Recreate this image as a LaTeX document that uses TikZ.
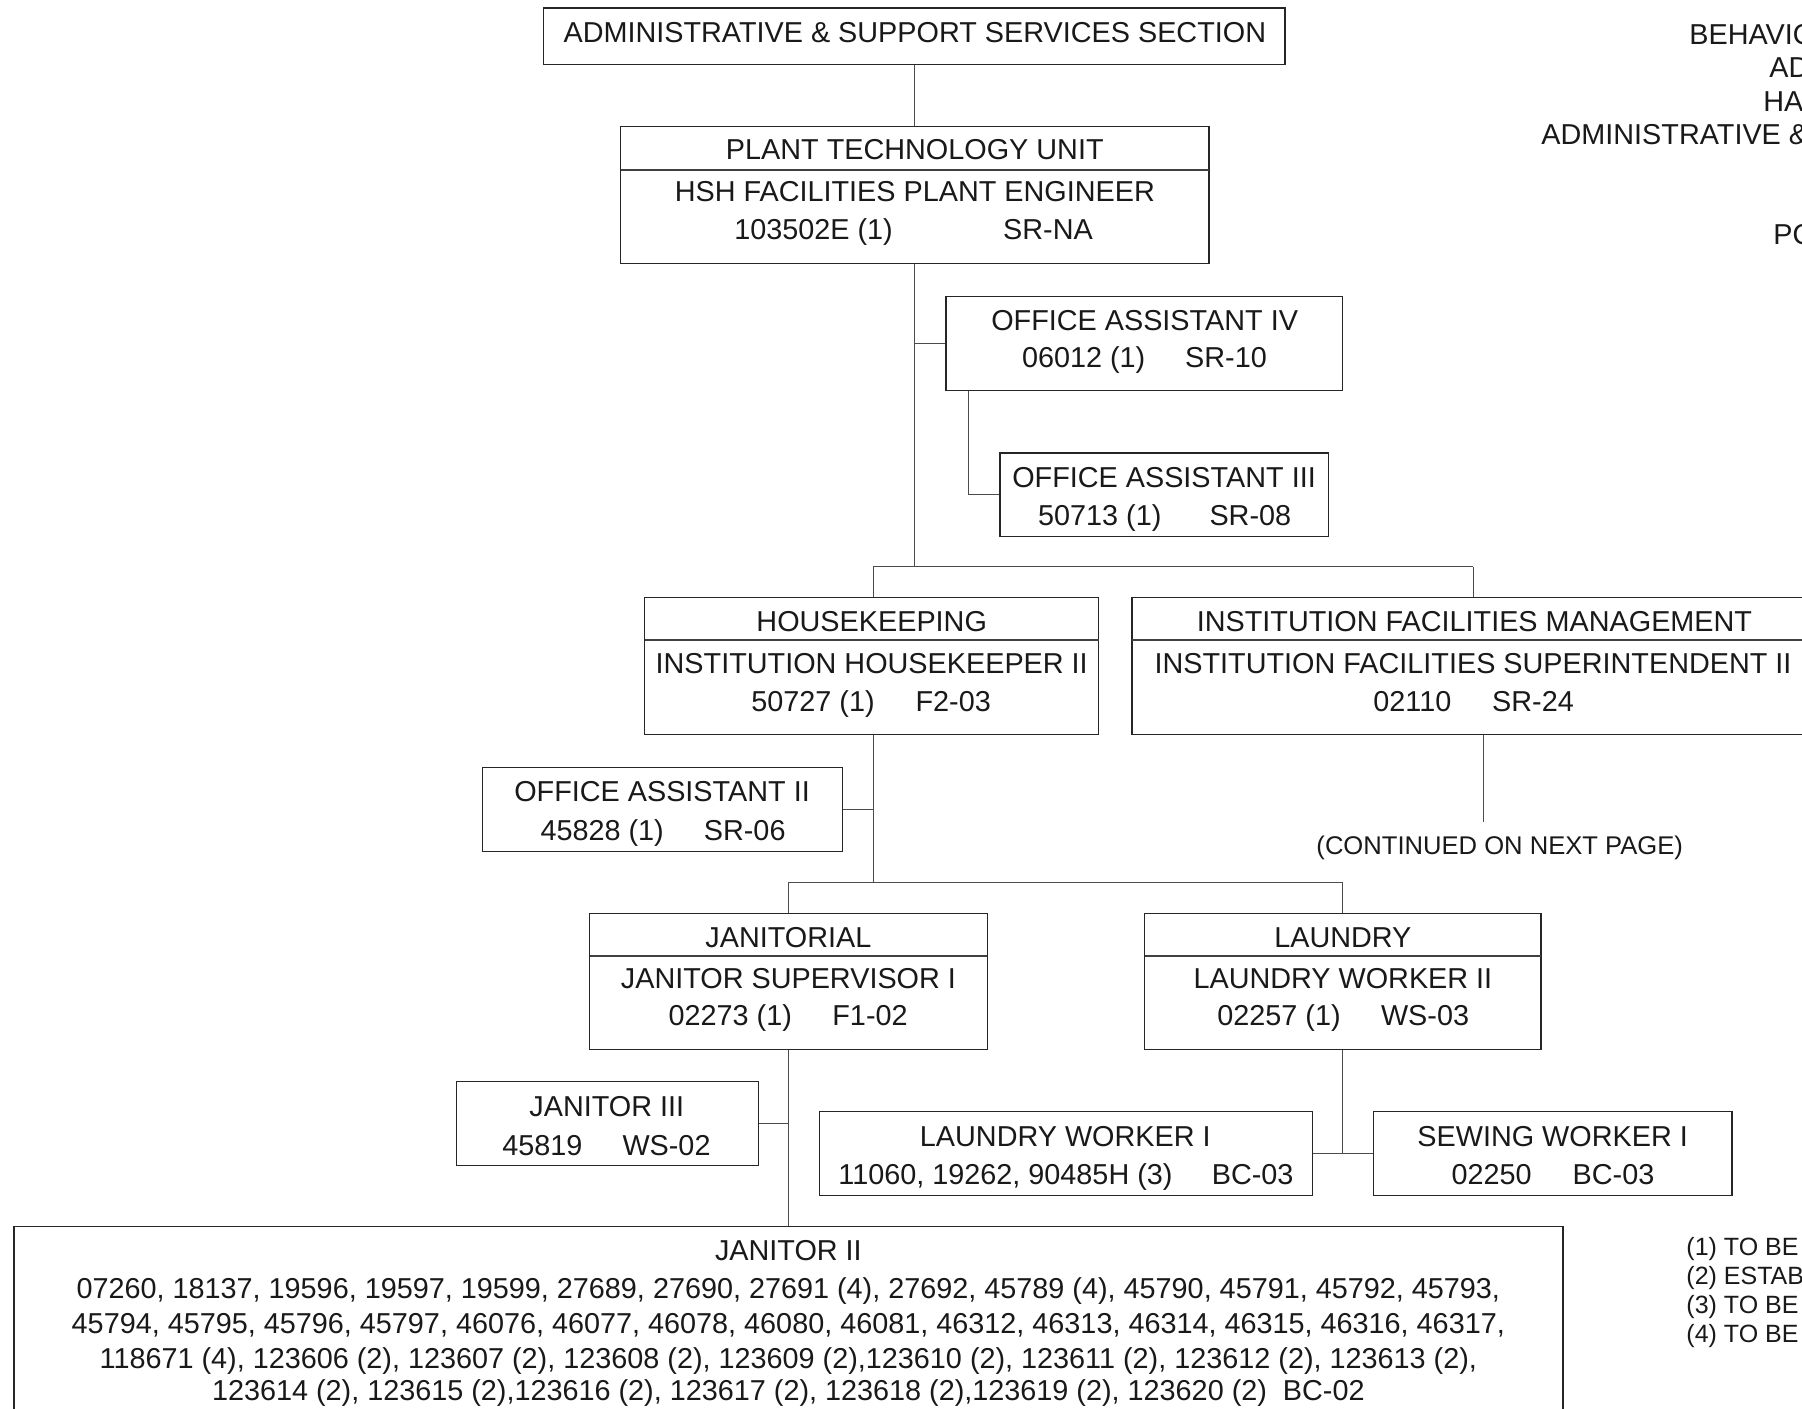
\documentclass[tikz,border=0pt]{standalone}
\usepackage{fontspec}
\setmainfont{Liberation Sans}
\usetikzlibrary{fit}
\begin{document}
\begin{tikzpicture}[x=0.5pt,y=-0.5pt,
  boxst/.style={draw=black!85, line width=0.7pt, inner sep=0pt},
  divl/.style={draw=black!75, line width=0.6pt},
  conn/.style={draw=black!70, line width=0.55pt},
  txt/.style={inner sep=0pt, anchor=base, font=\fontsize{14.4}{17}\selectfont, text=black!90},
  ntxt/.style={txt, font=\fontsize{14.4}{17}\selectfont},
  stxt/.style={txt, font=\fontsize{12.8}{15}\selectfont},
  ftxt/.style={txt, font=\fontsize{12.5}{15}\selectfont},
  hdr/.style={txt, anchor=base west},
  shdr/.style={ftxt, anchor=base west},
  ]
\useasboundingbox (0,0) rectangle (1802,1408);
\clip (0,0) rectangle (1802,1408);
\fill[white] (0,0) rectangle (1802,1408);

% ---------- boxes ----------
\node[boxst, fit={(543.6,8) (1284.8,64.4)}] (top) {};
\node[boxst, fit={(620.6,126.4) (1209,263.2)}] (plant) {};
\node[boxst, fit={(945.8,296.5) (1342.3,390.7)}] (oa4) {};
\node[boxst, fit={(999.8,452.8) (1328.5,536.7)}] (oa3) {};
\node[boxst, fit={(644.7,597.6) (1098.6,734.3)}] (hk) {};
\node[boxst, fit={(1132,597.6) (1820,734.3)}] (ifm) {};
\node[boxst, fit={(482.7,767.7) (842.4,851.6)}] (oa2) {};
\node[boxst, fit={(589.5,913.6) (987.2,1049.2)}] (jan) {};
\node[boxst, fit={(1144.6,913.6) (1541.1,1049.2)}] (lau) {};
\node[boxst, fit={(456.2,1081.4) (758.5,1165.3)}] (j3) {};
\node[boxst, fit={(819.4,1111.3) (1312.4,1195.2)}] (lw1) {};
\node[boxst, fit={(1373.3,1111.3) (1731.8,1195.2)}] (sw1) {};
\node[boxst, fit={(13.8,1226.2) (1563,1440)}] (j2) {};

% dividers
\draw[divl] (620.6,170) -- (1209,170);
\draw[divl] (644.7,640) -- (1098.6,640);
\draw[divl] (1132,640) -- (1820,640);
\draw[divl] (589.5,956) -- (987.2,956);
\draw[divl] (1144.6,956) -- (1541.1,956);

% ---------- texts ----------
\node[txt] (topt) at (914.8,42) {ADMINISTRATIVE \& SUPPORT SERVICES SECTION};

\node[txt] (plt1) at (914.8,159.5) {PLANT TECHNOLOGY UNIT};
\node[txt] (plt2) at (914.8,201) {HSH FACILITIES PLANT ENGINEER};
\node[txt] (plt3a) at (813.6,239) {103502E (1)};
\node[txt] (plt3b) at (1048,239) {SR-NA};

\node[txt] (oa4t1) at (1144.6,330) {OFFICE ASSISTANT IV};
\node[txt] (oa4t2a) at (1083.7,367.5) {06012 (1)};
\node[txt] (oa4t2b) at (1226,367.5) {SR-10};

\node[txt] (oa3t1) at (1164,487) {OFFICE ASSISTANT III};
\node[txt] (oa3t2a) at (1099.8,525) {50713 (1)};
\node[txt] (oa3t2b) at (1250.3,525) {SR-08};

\node[txt] (hkt1) at (871.7,631) {HOUSEKEEPING};
\node[txt] (hkt2) at (871.7,673) {INSTITUTION HOUSEKEEPER II};
\node[txt] (hkt3a) at (813,711) {50727 (1)};
\node[txt] (hkt3b) at (953.2,711) {F2-03};

\node[txt] (ifmt1) at (1474.4,631) {INSTITUTION FACILITIES MANAGEMENT};
\node[txt] (ifmt2) at (1473,673) {INSTITUTION FACILITIES SUPERINTENDENT II};
\node[txt] (ifmt3a) at (1412.4,711) {02110};
\node[txt] (ifmt3b) at (1533,711) {SR-24};

\node[stxt] (contt) at (1499.7,854) {(CONTINUED ON NEXT PAGE)};

\node[txt] (oa2t1) at (662,801) {OFFICE ASSISTANT II};
\node[txt] (oa2t2a) at (602.2,840) {45828 (1)};
\node[txt] (oa2t2b) at (744.7,840) {SR-06};

\node[txt] (jant1) at (788.4,947) {JANITORIAL};
\node[txt] (jant2) at (788.4,988) {JANITOR SUPERVISOR I};
\node[txt] (jant3a) at (730.3,1025) {02273 (1)};
\node[txt] (jant3b) at (870,1025) {F1-02};

\node[txt] (laut1) at (1342.9,947) {LAUNDRY};
\node[txt] (laut2) at (1342.9,988) {LAUNDRY WORKER II};
\node[txt] (laut3a) at (1279,1025) {02257 (1)};
\node[txt] (laut3b) at (1425,1025) {WS-03};

\node[txt] (j3t1) at (606.8,1116) {JANITOR III};
\node[txt] (j3t2a) at (542.4,1155) {45819};
\node[txt] (j3t2b) at (666.5,1155) {WS-02};

\node[txt] (lw1t1) at (1065.3,1146) {LAUNDRY WORKER I};
\node[txt] (lw1t2a) at (1005.5,1184) {11060, 19262, 90485H (3)};
\node[txt] (lw1t2b) at (1252.6,1184) {BC-03};

\node[txt] (sw1t1) at (1552.6,1146) {SEWING WORKER I};
\node[txt] (sw1t2a) at (1491.6,1184) {02250};
\node[txt] (sw1t2b) at (1613.5,1184) {BC-03};

\node[txt] (j2t1) at (788.4,1260.5) {JANITOR II};
\node[ntxt] (j2l1) at (788.4,1298) {07260, 18137, 19596, 19597, 19599, 27689, 27690, 27691 (4), 27692, 45789 (4), 45790, 45791, 45792, 45793,};
\node[ntxt] (j2l2) at (788.4,1333.6) {45794, 45795, 45796, 45797, 46076, 46077, 46078, 46080, 46081, 46312, 46313, 46314, 46315, 46316, 46317,};
\node[ntxt] (j2l3) at (788.4,1368) {118671 (4), 123606 (2), 123607 (2), 123608 (2), 123609 (2),123610 (2), 123611 (2), 123612 (2), 123613 (2),};
\node[ntxt] (j2l4) at (788.4,1400) {123614 (2), 123615 (2),123616 (2), 123617 (2), 123618 (2),123619 (2), 123620 (2)\ \ BC-02};

% header (cut at right edge, as in the reference)
\node[hdr] (h1) at (1689,44) {BEHAVIO};
\node[hdr] (h2) at (1769,77) {AD};
\node[hdr] (h3) at (1763,111) {HAW};
\node[hdr] (h4) at (1541,144) {ADMINISTRATIVE \&};
\node[hdr] (h5) at (1773,244) {PO};

% footnotes (cut at right edge, as in the reference)
\node[shdr] (f1) at (1686,1255) {(1) TO BE};
\node[shdr] (f2) at (1686,1284) {(2) ESTAB};
\node[shdr] (f3) at (1686,1313) {(3) TO BE};
\node[shdr] (f4) at (1686,1342) {(4) TO BE};

% ---------- connectors ----------
\coordinate (br1) at (873.4,566.5);
\coordinate (br2) at (1473.3,566.5);
\coordinate (oa4c) at (968.8,390.7);
\coordinate (hb) at (873.4,882.6);
\coordinate (cont) at (1483.6,821.7);

\draw[conn] (top.south) -- (top.south |- plant.north);
\draw[conn] (plant.south) -- (plant.south |- br1);
\draw[conn] (plant.south |- oa4.west) -- (oa4.west);
\draw[conn] (oa4c) |- (oa3.west);
\draw[conn] (br1) -- (br2);
\draw[conn] (br1) -- (br1 |- hk.north);
\draw[conn] (br2) -- (br2 |- ifm.north);
\draw[conn] (cont |- ifm.south) -- (cont);

\draw[conn] (hb |- hk.south) -- (hb);
\draw[conn] (hb |- oa2.east) -- (oa2.east);
\draw[conn] (jan.north |- hb) -- (lau.north |- hb);
\draw[conn] (jan.north |- hb) -- (jan.north);
\draw[conn] (lau.north |- hb) -- (lau.north);

\draw[conn] (jan.south) -- (jan.south |- j2.north);
\draw[conn] (jan.south |- j3.east) -- (j3.east);
\draw[conn] (lau.south) -- (lau.south |- lw1.east);
\draw[conn] (lw1.east) -- (sw1.west);
\end{tikzpicture}
\end{document}
